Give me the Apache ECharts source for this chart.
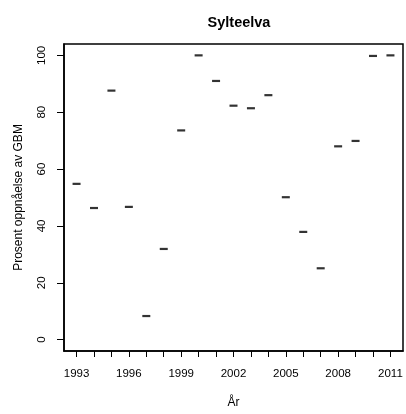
<!DOCTYPE html>
<html>
<head>
<meta charset="utf-8">
<script src="https://cdn.jsdelivr.net/npm/echarts@6/dist/echarts.min.js"></script>
<style>html,body{margin:0;padding:0;background:#fff;}#c{width:406px;height:414px;}</style>
</head>
<body>
<div id="c"></div>
<script>
var years = [1993,1994,1995,1996,1997,1998,1999,2000,2001,2002,2003,2004,2005,2006,2007,2008,2009,2010,2011];
var values = [54.8,46.3,87.6,46.7,8.3,31.9,73.6,100,91.0,82.3,81.4,86.0,50.1,37.9,25.1,68.0,69.9,99.8,100];
var xTickLabels = [1993,1996,1999,2002,2005,2008,2011];
var yTickLabels = [0,20,40,60,80,100];

var font = "'Liberation Sans', Arial, Helvetica, sans-serif";
var chart = echarts.init(document.getElementById('c'), null, {renderer:'canvas'});
chart.setOption({
  animation: false,
  backgroundColor: '#fff',
  title: {
    text: 'Sylteelva', left: 234, top: 10, textAlign: 'center',
    textStyle: {fontFamily: font, fontSize: 14.5, fontWeight: 'bold', color: '#000'}
  },
  grid: {left: 64, right: 3, top: 44, bottom: 61, show: true, borderColor: '#000', borderWidth: 1.5, backgroundColor: 'transparent'},
  xAxis: {
    type: 'value', min: 1993 - 0.72, max: 2011 + 0.72,
    name: 'År', nameLocation: 'middle', nameGap: 46,
    nameTextStyle: {fontFamily: font, fontSize: 12, color: '#000'},
    axisLine: {show: true, onZero: false, lineStyle: {color: '#000', width: 1.5}},
    axisTick: {show: true, length: 6, lineStyle: {color: '#000', width: 1}, customValues: years},
    axisLabel: {customValues: xTickLabels, margin: 17, fontFamily: font, fontSize: 11.5, color: '#000',
      formatter: function(v){ return String(Math.round(v)); }},
    splitLine: {show: false}
  },
  yAxis: {
    type: 'value', min: -4, max: 104,
    name: 'Prosent oppnåelse av GBM', nameLocation: 'middle', nameGap: 39, nameRotate: 90,
    nameTextStyle: {fontFamily: font, fontSize: 12, color: '#000'},
    axisLine: {show: true, onZero: false, lineStyle: {color: '#000', width: 1.5}},
    axisTick: {show: true, length: 7, lineStyle: {color: '#000', width: 1}, customValues: yTickLabels},
    axisLabel: {customValues: yTickLabels, rotate: 90, margin: 16, fontFamily: font, fontSize: 11.5, color: '#000',
      formatter: function(v){ return String(Math.round(v)); }},
    splitLine: {show: false}
  },
  series: [{
    type: 'scatter',
    data: years.map(function(y, i){ return [y, values[i]]; }),
    symbol: 'rect', symbolSize: [8, 2.2],
    itemStyle: {color: '#000'}
  }]
});
</script>
</body>
</html>
